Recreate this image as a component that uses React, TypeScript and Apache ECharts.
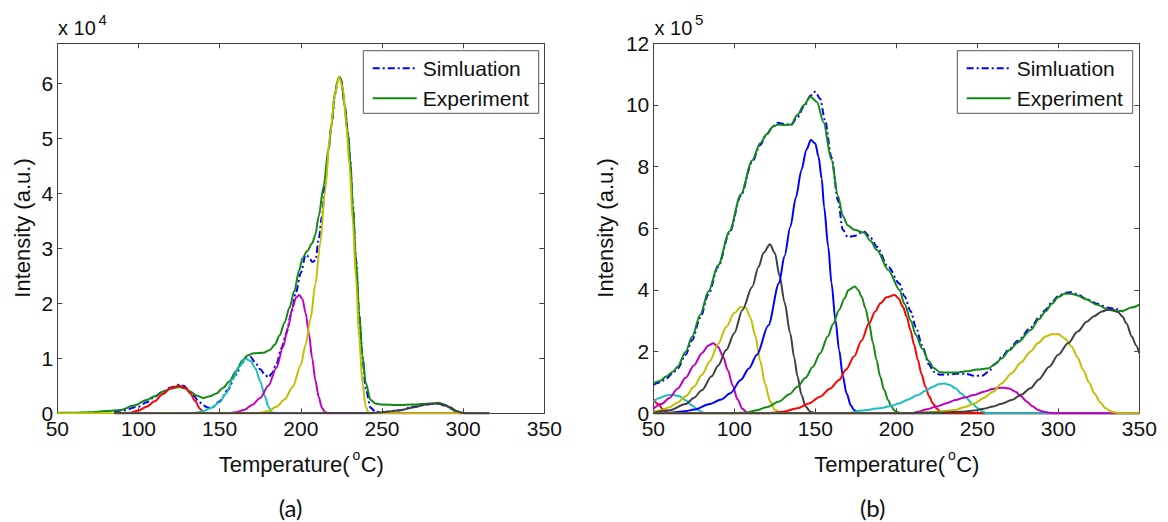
import React, { useEffect, useRef } from "react";
import * as echarts from "echarts";

const FONT = "'Liberation Sans', Arial, sans-serif";

// ---------- axis settings ----------
const xMin = 50;
const xMax = 350;
const xStep = 50;
const yMaxA = 6.727; // x 10^4
const yStepA = 1;
const yMaxB = 12; // x 10^5
const yStepB = 2;

// ---------- panel (a) ----------
const aExperiment = [
  [50, 0.01], [60, 0.01], [70, 0.02], [80, 0.04], [89, 0.06], [97, 0.14], [105, 0.24], [110, 0.31],
  [115, 0.39], [120, 0.45], [125, 0.48], [129, 0.45], [132, 0.39], [136, 0.32], [140, 0.28], [144, 0.31],
  [148, 0.36], [152, 0.46], [156, 0.58], [160, 0.76], [164, 0.96], [167, 1.05], [171, 1.09], [177, 1.1],
  [181, 1.15], [184, 1.25], [187, 1.42], [190, 1.65], [193, 1.92], [196, 2.22], [199, 2.6], [201, 2.82],
  [204, 2.95], [207, 3.09], [209, 3.25], [211, 3.58], [214, 4.12], [217, 4.79], [219, 5.25], [221, 5.82],
  [223, 6.08], [224, 6.12], [225, 6.05], [227, 5.6], [229, 5.1], [230.5, 4.6], [232, 3.8], [234, 2.8],
  [236, 1.8], [238, 1.05], [240, 0.55], [243, 0.24], [246, 0.18], [250, 0.16], [260, 0.15], [270, 0.16],
  [275, 0.17], [280, 0.18], [285, 0.19], [289, 0.15], [292, 0.1], [295, 0.04], [298, 0.01], [305, 0], [316, 0],
];
const aSimulation = [
  [85, 0.02], [90, 0.05], [100, 0.12], [105, 0.2], [110, 0.3], [115, 0.4], [120, 0.47], [125, 0.52],
  [128, 0.5], [131, 0.42], [134, 0.32], [137, 0.22], [140, 0.14], [143, 0.1], [146, 0.12], [150, 0.22],
  [155, 0.42], [160, 0.7], [164, 0.92], [166, 1.0], [169, 1.03], [172, 0.92], [175, 0.8], [178, 0.7],
  [180, 0.65], [182, 0.72], [185, 0.9], [188, 1.18], [191, 1.45], [194, 1.8], [197, 2.2], [200, 2.55],
  [203, 2.88], [205, 2.85], [207, 2.75], [209, 2.78], [211, 3.15], [213, 3.58], [215, 4.2], [217, 4.79],
  [219, 5.25], [221, 5.8], [223, 6.08], [224, 6.12], [225, 6.05], [227, 5.6], [229, 5.1], [230.5, 4.6],
  [232, 3.8], [234, 2.8], [236, 1.8], [238, 1.0], [240, 0.45], [243, 0.1], [246, 0.03], [250, 0.02],
  [260, 0.05], [270, 0.12], [280, 0.17], [284, 0.18], [289, 0.14], [293, 0.08], [297, 0.02], [300, 0], [316, 0],
];
const aRed = [
  [85, 0], [90, 0], [95, 0.01], [100, 0.05], [105, 0.12], [110, 0.22], [115, 0.35], [120, 0.46], [125, 0.5],
  [129, 0.46], [132, 0.36], [135, 0.22], [138, 0.08], [140, 0.01], [142, 0], [316, 0],
];
const aCyan = [
  [85, 0], [130, 0], [135, 0.01], [140, 0.04], [145, 0.1], [150, 0.2], [154, 0.36], [158, 0.62], [162, 0.85],
  [166, 0.99], [169, 0.95], [172, 0.82], [175, 0.58], [178, 0.3], [180, 0.12], [182, 0.02], [184, 0], [316, 0],
];
const aMagenta = [
  [85, 0], [155, 0], [160, 0.02], [165, 0.06], [170, 0.15], [175, 0.28], [180, 0.5], [185, 0.83], [189, 1.2],
  [192, 1.55], [195, 1.93], [197, 2.1], [199, 2.15], [201, 2.08], [203, 1.82], [205, 1.45], [207, 1.0],
  [209, 0.6], [211, 0.3], [213, 0.1], [215, 0.02], [217, 0], [316, 0],
];
const aYellow = [
  [50, 0], [170, 0], [175, 0.01], [180, 0.04], [185, 0.12], [190, 0.25], [195, 0.48], [200, 0.88], [203, 1.25],
  [206, 1.72], [209, 2.35], [212, 3.1], [215, 4.05], [218, 5.05], [221, 5.8], [223.5, 6.12], [226, 5.9],
  [228, 5.25], [230, 4.5], [232, 3.5], [234, 2.45], [236, 1.35], [238, 0.55], [240, 0.12], [242, 0], [316, 0],
];
const aGrey = [
  [85, 0], [240, 0], [250, 0.02], [260, 0.05], [270, 0.11], [277, 0.16], [283, 0.18], [288, 0.16],
  [292, 0.11], [296, 0.04], [299, 0.01], [302, 0], [316, 0],
];

// ---------- panel (b) ----------
const bExperiment = [
  [50, 0.97], [54, 1.05], [58, 1.19], [62, 1.35], [65, 1.51], [70, 2.0], [74, 2.49], [79, 3.2], [84, 3.95],
  [90, 4.8], [97, 5.9], [104, 7.1], [111, 8.2], [116, 8.76], [120, 9.05], [124, 9.3], [127, 9.37], [131, 9.35],
  [135, 9.36], [139, 9.68], [143, 10.0], [147, 10.27], [151, 10.1], [155, 9.45], [160, 8.22], [164, 7.05],
  [167, 6.4], [170, 6.1], [174, 5.95], [180, 5.86], [184, 5.6], [188, 5.3], [195, 4.65], [202, 4.0],
  [205, 3.55], [209, 3.0], [212, 2.55], [216, 2.1], [220, 1.7], [223, 1.47], [227, 1.33], [232, 1.32],
  [237, 1.32], [243, 1.36], [250, 1.42], [257, 1.46], [261, 1.6], [265, 1.78], [270, 2.05], [275, 2.3],
  [283, 2.7], [288, 3.05], [292, 3.3], [296, 3.55], [300, 3.77], [304, 3.88], [308, 3.88], [312, 3.82],
  [317, 3.7], [324, 3.52], [331, 3.36], [336, 3.3], [340, 3.33], [345, 3.43], [350, 3.52],
];
const bSimulation = [
  [50, 0.93], [54, 1.0], [58, 1.12], [62, 1.3], [65, 1.45], [70, 1.9], [74, 2.38], [79, 3.1], [84, 3.85],
  [90, 4.75], [97, 5.85], [104, 7.05], [111, 8.15], [116, 8.7], [120, 9.05], [124, 9.32], [127, 9.42],
  [131, 9.38], [135, 9.35], [139, 9.6], [143, 9.95], [147, 10.3], [150, 10.43], [153, 10.2], [156, 9.5],
  [160, 8.3], [164, 6.9], [167, 5.95], [170, 5.72], [174, 5.75], [180, 5.9], [184, 5.7], [188, 5.4],
  [195, 4.75], [202, 4.2], [205, 3.8], [209, 3.3], [212, 2.8], [216, 2.2], [220, 1.6], [223, 1.35],
  [227, 1.25], [232, 1.26], [237, 1.28], [243, 1.28], [248, 1.22], [253, 1.22], [257, 1.35], [261, 1.6],
  [265, 1.82], [270, 2.1], [275, 2.35], [283, 2.78], [288, 3.1], [292, 3.35], [296, 3.6], [300, 3.8],
  [304, 3.9], [308, 3.93], [312, 3.86], [317, 3.72], [324, 3.55], [331, 3.42], [336, 3.38], [340, 3.3],
];
const bRed1 = [[50, 0.45], [53, 0.3], [56, 0.12], [59, 0.02], [62, 0], [350, 0]];
const bCyan1 = [
  [50, 0.38], [54, 0.5], [58, 0.58], [62, 0.6], [66, 0.55], [70, 0.42], [74, 0.25], [78, 0.1], [81, 0.02],
  [84, 0], [350, 0],
];
const bMagenta1 = [
  [50, 0.15], [55, 0.3], [60, 0.5], [65, 0.8], [70, 1.15], [75, 1.55], [80, 1.95], [84, 2.2], [87, 2.27],
  [90, 2.15], [93, 1.85], [96, 1.4], [99, 0.9], [102, 0.45], [105, 0.15], [108, 0.02], [110, 0], [350, 0],
];
const bYellow1 = [
  [50, 0.05], [55, 0.1], [60, 0.2], [65, 0.35], [70, 0.55], [75, 0.85], [80, 1.25], [85, 1.7], [90, 2.25],
  [95, 2.8], [100, 3.25], [104, 3.45], [107, 3.42], [110, 3.1], [113, 2.5], [116, 1.7], [119, 0.95],
  [122, 0.4], [125, 0.12], [128, 0.02], [131, 0], [350, 0],
];
const bGrey1 = [
  [50, 0.02], [60, 0.1], [70, 0.3], [75, 0.5], [80, 0.75], [86, 1.2], [90, 1.55], [95, 2.05], [100, 2.6],
  [105, 3.35], [111, 4.1], [115, 4.75], [118, 5.2], [122, 5.48], [125, 5.2], [128, 4.45], [131, 3.6],
  [134.5, 2.6], [137, 1.8], [139, 1.2], [141.5, 0.6], [144, 0.22], [147, 0.05], [150, 0], [350, 0],
];
const bBlue = [
  [50, 0], [60, 0.02], [70, 0.07], [75, 0.12], [85, 0.3], [92, 0.45], [97.5, 0.65], [104, 1.08], [109, 1.45],
  [114, 1.9], [121, 2.85], [127.6, 4.22], [131, 5.1], [134.6, 6.05], [138, 7.0], [141.5, 7.9], [144.5, 8.55],
  [147.3, 8.86], [150, 8.75], [152, 8.32], [154, 7.6], [155.4, 6.7], [158, 5.4], [160, 4.22], [162.5, 3.0],
  [164.7, 2.05], [167, 1.2], [169.3, 0.65], [172, 0.25], [174, 0.1], [177, 0.02], [180, 0], [350, 0],
];
const bGreen = [
  [50, 0], [100, 0], [108, 0.03], [114, 0.1], [120, 0.2], [127.6, 0.38], [134, 0.62], [139, 0.86],
  [144, 1.15], [148.5, 1.51], [153, 1.95], [157.7, 2.49], [161, 2.9], [164.7, 3.35], [168, 3.72],
  [170.5, 4.0], [174.4, 4.11], [176.5, 4.0], [178.6, 3.78], [181, 3.4], [183.2, 2.92], [185.5, 2.3],
  [187.8, 1.73], [190, 1.2], [192.5, 0.76], [195, 0.42], [197, 0.22], [199, 0.08], [202, 0.02], [205, 0], [350, 0],
];
const bRed2 = [
  [50, 0], [120, 0], [130, 0.05], [139, 0.16], [146, 0.32], [153, 0.54], [159, 0.8], [164.7, 1.08],
  [169, 1.42], [173.9, 1.84], [178.5, 2.35], [183.2, 2.92], [187, 3.3], [190.2, 3.57], [194, 3.76],
  [199, 3.84], [201.5, 3.72], [204, 3.46], [206.5, 3.12], [208.7, 2.7], [211, 2.22], [213.3, 1.73],
  [215.5, 1.28], [218, 0.86], [220.3, 0.55], [222.6, 0.32], [225, 0.15], [227.2, 0.05], [230, 0.01], [233, 0], [350, 0],
];
const bCyan2 = [
  [50, 0], [170, 0], [178.6, 0.09], [190, 0.16], [196, 0.23], [201.7, 0.32], [207, 0.44], [213.3, 0.59],
  [218, 0.73], [222.6, 0.86], [226, 0.94], [229.5, 0.97], [233, 0.92], [236.5, 0.81], [240, 0.65],
  [243.4, 0.49], [247, 0.3], [250.4, 0.16], [253, 0.07], [255, 0.02], [258, 0], [350, 0],
];
const bMagenta2 = [
  [50, 0], [210, 0], [213.3, 0.05], [219, 0.13], [224.9, 0.22], [231, 0.33], [236.5, 0.43], [242, 0.51],
  [248, 0.59], [254, 0.7], [259.7, 0.79], [263, 0.82], [266.6, 0.83], [270, 0.8], [273.6, 0.7], [277, 0.55],
  [280.5, 0.38], [284, 0.23], [287.5, 0.11], [291, 0.05], [294.4, 0.02], [298, 0], [350, 0],
];
const bYellow2 = [
  [50, 0], [200, 0], [215, 0.02], [225, 0.05], [236.5, 0.11], [242, 0.2], [248, 0.32], [254, 0.5],
  [259.7, 0.7], [265, 0.97], [271.2, 1.3], [277, 1.65], [282.8, 2.0], [287.5, 2.28], [292.1, 2.49],
  [296, 2.56], [300.1, 2.56], [304, 2.43], [308.3, 2.16], [312, 1.8], [315.3, 1.41], [319, 1.0],
  [322.2, 0.65], [326, 0.35], [329.2, 0.16], [333, 0.05], [336.1, 0.02], [340, 0], [350, 0],
];
const bGrey2 = [
  [50, 0], [200, 0], [230, 0.03], [240, 0.05], [248, 0.09], [254, 0.15], [259.7, 0.22], [265, 0.31],
  [271.2, 0.43], [277, 0.6], [282.8, 0.81], [288, 1.1], [294.4, 1.51], [300, 1.9], [306, 2.27], [312, 2.65],
  [317.6, 2.97], [322, 3.15], [326.9, 3.3], [330, 3.35], [333.8, 3.36], [337, 3.28], [339.6, 3.14],
  [342, 2.92], [345.4, 2.49], [348, 2.2], [350, 1.95],
];

const legendNames = ["Simluation", "Experiment"];

// ---------- colours ----------
const C = {
  blue: "#0000ff",
  green: "#138a13",
  red: "#ff0000",
  cyan: "#1cbebe",
  magenta: "#c000c0",
  yellow: "#c0c000",
  grey: "#404040",
};
const AXIS = "#404040";
const DASHDOT = [7, 3, 2, 3];

const GRID_A = { left: 57.3, top: 43.3, width: 487, height: 370 };
const GRID_B = { left: 653.3, top: 43.3, width: 486, height: 370 };

function line(name: string, data: number[][], color: string, panel: number, dash = false, z = 3) {
  return {
    type: "line",
    name,
    data,
    xAxisIndex: panel * 2,
    yAxisIndex: panel * 2,
    showSymbol: false,
    symbol: "none",
    smooth: 0.3,
    smoothMonotone: "x",
    silent: true,
    z,
    lineStyle: { color, width: 2, type: dash ? DASHDOT : "solid" },
    itemStyle: { color },
  };
}

function xAxes(gridIndex: number) {
  const common = {
    gridIndex,
    type: "value",
    min: xMin,
    max: xMax,
    interval: xStep,
    splitLine: { show: false },
    axisLine: { show: true, onZero: false, lineStyle: { color: AXIS, width: 1 } },
    axisTick: { show: true, inside: true, length: 5, lineStyle: { color: AXIS, width: 1 } },
  };
  return [
    {
      ...common,
      position: "bottom",
      axisLabel: { show: true, margin: 5, fontSize: 21, color: "#111", fontFamily: FONT },
    },
    { ...common, position: "top", axisLabel: { show: false } },
  ];
}

function yAxes(gridIndex: number, max: number, interval: number) {
  const common = {
    gridIndex,
    type: "value",
    min: 0,
    max,
    interval,
    splitLine: { show: false },
    axisLine: { show: true, onZero: false, lineStyle: { color: AXIS, width: 1 } },
    axisTick: { show: true, inside: true, length: 5, lineStyle: { color: AXIS, width: 1 } },
  };
  return [
    {
      ...common,
      position: "left",
      axisLabel: {
        show: true,
        margin: 4,
        fontSize: 21,
        color: "#111",
        fontFamily: FONT,
        formatter: (v: number) => (Math.abs(v - Math.round(v / interval) * interval) < 1e-6 ? String(Math.round(v)) : ""),
      },
    },
    { ...common, position: "right", axisLabel: { show: false } },
  ];
}

function txt(x: number, y: number, text: string, fontSize: number, align = "left", family = FONT, extra: any = {}) {
  return {
    type: "text",
    x,
    y,
    silent: true,
    ...extra,
    style: {
      text,
      x: 0,
      y: 0,
      fill: "#111",
      fontSize,
      fontFamily: family,
      textAlign: align,
      textVerticalAlign: "middle",
    },
  };
}

function legend(boxLeft: number) {
  const dx = boxLeft;
  return [
    {
      type: "rect",
      silent: true,
      shape: { x: dx, y: 50.7, width: 175.4, height: 62.6 },
      style: { fill: "#fff", stroke: "#555", lineWidth: 1 },
      z: 100,
    },
    {
      type: "line",
      silent: true,
      shape: { x1: dx + 9.4, y1: 68.3, x2: dx + 53.4, y2: 68.3 },
      style: { stroke: C.blue, lineWidth: 2, lineDash: DASHDOT },
      z: 101,
    },
    {
      type: "line",
      silent: true,
      shape: { x1: dx + 9.4, y1: 98.3, x2: dx + 53.4, y2: 98.3 },
      style: { stroke: C.green, lineWidth: 2 },
      z: 101,
    },
    { ...txt(dx + 59.4, 68.3, legendNames[0], 21), z: 101 },
    { ...txt(dx + 59.4, 98.3, legendNames[1], 21), z: 101 },
  ];
}

function xTitle(cx: number) {
  // "Temperature(" + superscript o + "C)"
  const w1 = 6.057 * 22;
  const w2 = 0.556 * 14;
  const w3 = 1.055 * 22;
  const start = cx - (w1 + w2 + w3) / 2;
  return [
    txt(start, 464, "Temperature(", 22),
    txt(start + w1 + 0.5, 455, "o", 14),
    txt(start + w1 + w2 + 1, 464, "C)", 22),
  ];
}

function scaleLabel(x: number, exp: string) {
  return [txt(x, 28, "x 10", 20), txt(x + 40.5, 19, exp, 15)];
}

export default function App() {
  const ref = useRef<HTMLDivElement>(null);
  useEffect(() => {
    if (!ref.current) return;
    const chart = echarts.init(ref.current, undefined, { renderer: "svg" });
    const option = {
      animation: false,
      backgroundColor: "#fff",
      textStyle: { fontFamily: FONT },
      grid: [
        { ...GRID_A, containLabel: false },
        { ...GRID_B, containLabel: false },
      ],
      xAxis: [...xAxes(0), ...xAxes(1)],
      yAxis: [...yAxes(0, yMaxA, yStepA), ...yAxes(1, yMaxB, yStepB)],
      series: [
        line(legendNames[0], aSimulation, C.blue, 0, true, 3),
        line(legendNames[1], aExperiment, C.green, 0, false, 3),
        line("a1", aRed, C.red, 0, false, 4),
        line("a2", aCyan, C.cyan, 0, false, 4),
        line("a3", aMagenta, C.magenta, 0, false, 4),
        line("a4", aYellow, C.yellow, 0, false, 4),
        line("a5", aGrey, C.grey, 0, false, 4),

        line(legendNames[0] + " b", bSimulation, C.blue, 1, true, 3),
        line(legendNames[1] + " b", bExperiment, C.green, 1, false, 3),
        line("b1", bRed1, C.red, 1, false, 4),
        line("b2", bCyan1, C.cyan, 1, false, 4),
        line("b3", bMagenta1, C.magenta, 1, false, 4),
        line("b4", bYellow1, C.yellow, 1, false, 4),
        line("b5", bGrey1, C.grey, 1, false, 4),
        line("b6", bBlue, C.blue, 1, false, 4),
        line("b7", bGreen, C.green, 1, false, 4),
        line("b8", bRed2, C.red, 1, false, 4),
        line("b9", bCyan2, C.cyan, 1, false, 4),
        line("b10", bMagenta2, C.magenta, 1, false, 4),
        line("b11", bYellow2, C.yellow, 1, false, 4),
        line("b12", bGrey2, C.grey, 1, false, 4),
      ],
      graphic: [
        ...scaleLabel(58, "4"),
        ...scaleLabel(654.5, "5"),
        ...xTitle(GRID_A.left + GRID_A.width / 2),
        ...xTitle(GRID_B.left + GRID_B.width / 2),
        txt(22.5, 228, "Intensity (a.u.)", 22, "center", FONT, { rotation: Math.PI / 2 }),
        txt(605, 228, "Intensity (a.u.)", 22, "center", FONT, { rotation: Math.PI / 2 }),
        txt(290.6, 507, "(a)", 24, "center", "Lato, 'Open Sans', sans-serif"),
        txt(872.7, 507, "(b)", 24, "center", "Lato, 'Open Sans', sans-serif"),
        ...legend(363.3),
        ...legend(957.3),
      ],
    };
    chart.setOption(option as any);
    return () => chart.dispose();
  }, []);
  return (
    <div
      ref={ref}
      style={{ position: "fixed", left: 0, top: 0, width: 1168, height: 522, background: "#fff" }}
    />
  );
}
